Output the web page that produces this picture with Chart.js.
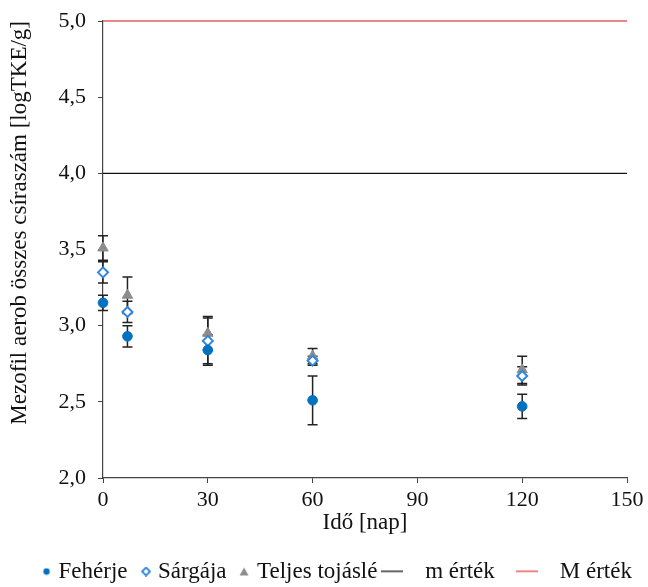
<!DOCTYPE html>
<html>
<head>
<meta charset="utf-8">
<script src="https://cdn.jsdelivr.net/npm/chart.js@4/dist/chart.umd.min.js"></script>
<style>
  html, body { margin: 0; padding: 0; background: #fff; }
  #wrap { width: 648px; height: 587px; }
</style>
</head>
<body>
<div id="wrap"><canvas id="chart"></canvas></div>
<script>
// napok (x)
const days = [0, 7, 30, 60, 120];
// sorozatok + szórás
const feherje = [3.15, 2.93, 2.84, 2.51, 2.47];
const feherjeErr = [0.05, 0.07, 0.10, 0.16, 0.08];
const sargaja = [3.35, 3.09, 2.90, 2.77, 2.67];
const sargajaErr = [0.07, 0.07, 0.15, 0.03, 0.06];
const teljes = [3.51, 3.20, 2.95, 2.80, 2.71];
const teljesErr = [0.08, 0.12, 0.11, 0.05, 0.09];
// határértékek
const limitX = [0, 150];
const mErtek = 4.0;
const MErtek = 5.0;

const blue = '#0070c0';
const lightBlue = '#2e86de';
const grey = '#8c8c8c';
const red = '#e06060';
const font = 'Liberation Serif';

const toPoints = (ys) => days.map((d, i) => ({ x: d, y: ys[i] }));

// kis ikonok a jelmagyarázathoz (a jel a vászon jobb szélén, hogy közelebb legyen a szöveghez)
function icon(w, h, draw) {
  const c = document.createElement('canvas');
  c.width = w; c.height = h;
  draw(c.getContext('2d'));
  return c;
}
const legendIcons = [
  icon(17, 8, g => { g.fillStyle = blue; g.beginPath(); g.arc(12, 4, 3.2, 0, Math.PI * 2); g.fill(); }),
  icon(17, 10, g => {
    g.strokeStyle = lightBlue; g.lineWidth = 1.8; g.beginPath();
    g.moveTo(12, 1); g.lineTo(16, 5); g.lineTo(12, 9); g.lineTo(8, 5); g.closePath(); g.stroke();
  }),
  icon(17, 10, g => { g.fillStyle = grey; g.beginPath(); g.moveTo(11, 1); g.lineTo(15.5, 9); g.lineTo(6.5, 9); g.closePath(); g.fill(); }),
  icon(22, 4, g => { g.fillStyle = '#333'; g.fillRect(0, 1, 22, 1.5); }),
  icon(22, 4, g => { g.fillStyle = red; g.fillRect(0, 1, 22, 1.5); })
];

const errorBars = {
  id: 'errorBars',
  afterLayout(chart) {
    // jelmagyarázat kicsit jobbra, mint az eredetin
    chart.legend.left += 22;
    chart.legend.right += 22;
  },
  beforeDatasetsDraw(chart) {
    const ctx = chart.ctx;
    const xs = chart.scales.x, ys = chart.scales.y;
    ctx.save();
    ctx.strokeStyle = '#222';
    ctx.lineWidth = 1.5;
    chart.data.datasets.forEach((ds) => {
      if (!ds.err) return;
      ds.data.forEach((p, i) => {
        const px = xs.getPixelForValue(p.x);
        const top = ys.getPixelForValue(p.y + ds.err[i]);
        const bot = ys.getPixelForValue(p.y - ds.err[i]);
        ctx.beginPath();
        ctx.moveTo(px, top); ctx.lineTo(px, bot);
        ctx.moveTo(px - 5, top); ctx.lineTo(px + 5, top);
        ctx.moveTo(px - 5, bot); ctx.lineTo(px + 5, bot);
        ctx.stroke();
      });
    });
    ctx.restore();
  }
};

new Chart(document.getElementById('chart'), {
  type: 'scatter',
  data: {
    datasets: [
      {
        label: 'Fehérje', data: toPoints(feherje), err: feherjeErr,
        pointStyle: 'circle', pointRadius: 4.8, backgroundColor: blue,
        borderColor: blue, borderWidth: 1, clip: false
      },
      {
        label: 'Sárgája', data: toPoints(sargaja), err: sargajaErr,
        pointStyle: 'rectRot', pointRadius: 5, backgroundColor: '#ffffff',
        borderColor: lightBlue, borderWidth: 2, clip: false
      },
      {
        label: 'Teljes tojáslé', data: toPoints(teljes), err: teljesErr,
        pointStyle: 'triangle', pointRadius: 6, backgroundColor: grey,
        borderColor: grey, borderWidth: 1, clip: false
      },
      {
        label: '   m érték   ', data: limitX.map(x => ({ x, y: mErtek })),
        showLine: true, pointRadius: 0,
        borderColor: '#111', borderWidth: 1.2, backgroundColor: '#111'
      },
      {
        label: '   M érték', data: limitX.map(x => ({ x, y: MErtek })),
        showLine: true, pointRadius: 0,
        borderColor: red, borderWidth: 1.5, backgroundColor: red, clip: false
      }
    ]
  },
  options: {
    responsive: true,
    maintainAspectRatio: false,
    animation: false,
    layout: { padding: { top: 21, right: 21, left: 0, bottom: 0 } },
    plugins: {
      tooltip: { enabled: false },
      legend: {
        position: 'bottom',
        maxHeight: 38,
        labels: {
          usePointStyle: true,
          boxWidth: 8,
          color: '#111',
          font: { family: font, size: 23 },
          padding: 11,
          generateLabels: (chart) => Chart.defaults.plugins.legend.labels.generateLabels(chart)
            .map((item, i) => Object.assign(item, { pointStyle: legendIcons[i] }))
        }
      }
    },
    scales: {
      x: {
        type: 'linear', min: 0, max: 150,
        ticks: { stepSize: 30, color: '#111', font: { family: font, size: 22 }, padding: 4 },
        grid: { drawOnChartArea: false, drawTicks: true, tickLength: 5, color: '#444' },
        border: { color: '#444', width: 1.2 },
        title: { display: true, text: 'Idő [nap]', color: '#111', font: { family: font, size: 23 }, padding: { top: 0, bottom: 12 } },
        afterFit: (s) => { s.height = 71; }
      },
      y: {
        min: 2, max: 5,
        ticks: {
          stepSize: 0.5, color: '#111', font: { family: font, size: 22 }, padding: 12,
          callback: v => v.toFixed(1).replace('.', ',')
        },
        grid: { drawOnChartArea: false, drawTicks: true, tickLength: 5, color: '#444' },
        border: { color: '#444', width: 1.2 },
        title: {
          display: true, align: 'end', text: 'Mezofil aerob összes csíraszám [logTKE/g]',
          color: '#111', font: { family: font, size: 23 }, padding: { top: 6, bottom: 6 }
        },
        afterFit: (s) => { s.width = 103; s.paddingTop = 0; s.paddingBottom = 0; }
      }
    }
  },
  plugins: [errorBars]
});
</script>
</body>
</html>
